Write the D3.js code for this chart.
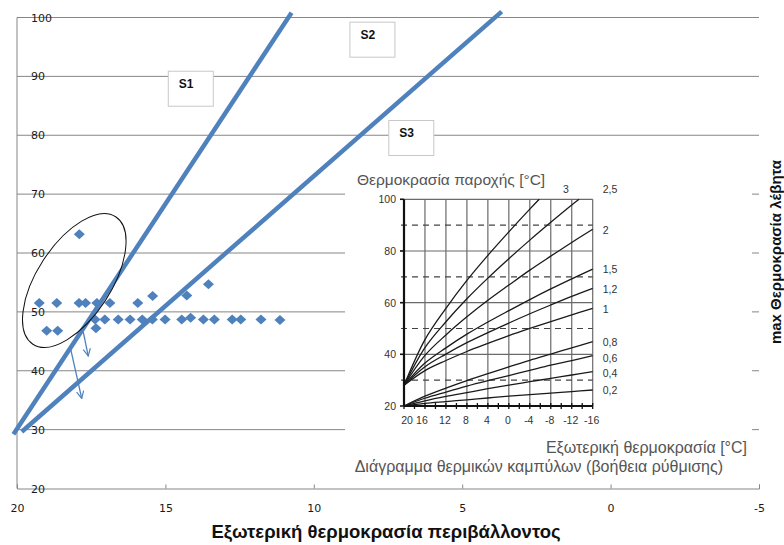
<!DOCTYPE html>
<html><head><meta charset="utf-8">
<script src="https://cdn.jsdelivr.net/npm/d3@7"></script>
<style>body{margin:0;background:#fff}svg{display:block}</style>
</head><body>
<svg id="c" width="784" height="545"></svg>
<script>
// ---------- main chart data ----------
const xTickValues = [20, 15, 10, 5, 0, -5];
const yTickValues = [20, 30, 40, 50, 60, 70, 80, 90, 100];
const pointX = [19.25, 18.66, 17.91, 17.69, 17.31, 16.87, 15.93,
                15.43, 14.28, 13.55,
                17.37, 17.04, 16.59, 16.19, 15.78, 15.44, 15.01, 14.45, 14.15, 13.72, 13.35, 12.75, 12.46, 11.78, 11.14,
                19.0, 18.63, 17.34, 17.9];
const pointY = [51.5, 51.5, 51.5, 51.5, 51.5, 51.5, 51.5,
                52.7, 52.8, 54.7,
                48.7, 48.7, 48.7, 48.7, 48.7, 48.7, 48.7, 48.7, 49.0, 48.7, 48.7, 48.7, 48.7, 48.7, 48.6,
                46.8, 46.8, 47.2, 63.2];
const lineStartX = [20.12, 19.84];
const lineStartY = [29.2, 29.65];
const lineEndX = [10.75, 3.67];
const lineEndY = [100.8, 101.0];
const boxLabels = ["S1", "S2", "S3"];
const boxX = [14.92, 8.80, 7.49];
const boxY = [90.96, 99.29, 82.59];
const arrowStartX = [17.77, 18.21];
const arrowStartY = [46.63, 44.1];
const arrowEndX = [17.60, 17.82];
const arrowEndY = [42.5, 35.3];
const ellipseCenter = [18.07, 55.33];

// ---------- inset (heating curves) data ----------
const insetXTicks = [20, 16, 12, 8, 4, 0, -4, -8, -12, -16];
const insetYTicks = [20, 40, 60, 80, 100];
const insetDashed = [30, 50, 70, 90];
const insetMinor = [18, 14, 10, 6, 2, -2, -6, -10, -14];
const curveNames = ["0,2", "0,4", "0,6", "0,8", "1", "1,2", "1,5", "2", "2,5", "3"];
const curveT = [20, 16, 12, 8, 4, 0, -4, -8, -12, -16];
const curve02 = [20, 21.0, 21.7, 22.4, 23.1, 23.8, 24.4, 25.0, 25.6, 26.2];
const curve04 = [20, 22.0, 23.7, 25.2, 26.7, 28.1, 29.4, 30.7, 32.0, 33.3];
const curve06 = [20, 23.0, 25.4, 27.7, 29.8, 31.8, 33.8, 35.8, 37.6, 39.5];
const curve08 = [20, 23.8, 26.9, 29.8, 32.5, 35.1, 37.7, 40.1, 42.5, 44.9];
const curve10 = [28, 33.7, 37.6, 41.1, 44.2, 47.2, 50.0, 52.7, 55.3, 57.8];
const curve12 = [28, 35.2, 40.1, 44.5, 48.4, 52.1, 55.7, 59.1, 62.4, 65.5];
const curve15 = [28, 36.6, 42.5, 47.8, 52.5, 56.9, 61.2, 65.3, 69.2, 73.0];
const curve20 = [28, 39.6, 47.5, 54.5, 60.9, 66.8, 72.6, 78.0, 83.3, 88.4];
const curve25T = [20, 16, 12, 8, 4, 0, -4, -8, -12, -13.4];
const curve25 = [28, 42.6, 52.6, 61.5, 69.5, 77.0, 84.2, 91.1, 97.8, 100];
const curve30T = [20, 16, 12, 8, 4, 0, -4, -5.8];
const curve30 = [28, 45.7, 57.8, 68.6, 78.3, 87.4, 96.2, 100];
const curveLabelT = [-16, -16, -16, -16, -16, -16, -16, -16, -16, -10.9];
const curveLabelV = [26.0, 32.6, 38.6, 44.9, 57.6, 65.4, 73.1, 88.2, 104, 104];

const svg = d3.select("#c");
const blue = "#4F81BD";
const grid = "#868686";

// main scales
const x = d3.scaleLinear().domain([20, -5]).range([17, 759]);
const y = d3.scaleLinear().domain([20, 100]).range([488.5, 17.5]);

// gridlines
svg.append("g").selectAll("line").data(yTickValues.filter(v => v > 20)).join("line")
  .attr("x1", x(20)).attr("x2", x(-5)).attr("y1", d => y(d)).attr("y2", d => y(d))
  .attr("stroke", grid).attr("stroke-width", 1);

// x axis
const xAxis = svg.append("g").attr("transform", `translate(0,${y(20)})`)
  .call(d3.axisBottom(x).tickValues(xTickValues).tickSize(-4).tickPadding(16).tickFormat(d => String(d)));
xAxis.select(".domain").attr("stroke", grid);
xAxis.selectAll(".tick line").attr("stroke", grid);
xAxis.selectAll("text").attr("font-family", "DejaVu Sans").attr("font-size", 11).attr("fill", "#1a1a1a");

// y axis line
svg.append("line").attr("x1", x(20)).attr("x2", x(20)).attr("y1", y(20)).attr("y2", y(100))
  .attr("stroke", grid);
// y labels (drawn to the right of the axis)
svg.append("g").selectAll("text").data(yTickValues).join("text")
  .attr("x", x(20) + 14).attr("y", d => y(d) + 4)
  .attr("font-family", "DejaVu Sans").attr("font-size", 11).attr("fill", "#1a1a1a")
  .text(d => d);

// S lines
svg.append("g").selectAll("line").data(lineStartX).join("line")
  .attr("x1", (d, i) => x(lineStartX[i])).attr("y1", (d, i) => y(lineStartY[i]))
  .attr("x2", (d, i) => x(lineEndX[i])).attr("y2", (d, i) => y(lineEndY[i]))
  .attr("stroke", blue).attr("stroke-width", 4.5);

// scatter diamonds
svg.append("g").selectAll("path").data(pointX).join("path")
  .attr("d", "M0,-5 L5.5,0 L0,5 L-5.5,0 Z")
  .attr("transform", (d, i) => `translate(${x(pointX[i])},${y(pointY[i])})`)
  .attr("fill", blue);

// ellipse
svg.append("ellipse")
  .attr("transform", `translate(${x(ellipseCenter[0])},${y(ellipseCenter[1])}) rotate(-57)`)
  .attr("rx", 76).attr("ry", 37).attr("fill", "none").attr("stroke", "#111").attr("stroke-width", 1);

// arrows
const defs = svg.append("defs");
defs.append("marker").attr("id", "ah").attr("viewBox", "0 0 10 10").attr("refX", 9).attr("refY", 5)
  .attr("markerWidth", 9).attr("markerHeight", 9).attr("orient", "auto").attr("markerUnits", "userSpaceOnUse")
  .append("path").attr("d", "M1,1 L9,5 L1,9").attr("fill", "none").attr("stroke", blue).attr("stroke-width", 1.3);
svg.append("g").selectAll("line").data(arrowStartX).join("line")
  .attr("x1", (d, i) => x(arrowStartX[i])).attr("y1", (d, i) => y(arrowStartY[i]))
  .attr("x2", (d, i) => x(arrowEndX[i])).attr("y2", (d, i) => y(arrowEndY[i]))
  .attr("stroke", blue).attr("stroke-width", 1.3).attr("marker-end", "url(#ah)");

// ---------- inset ----------
svg.append("rect").attr("x", 345).attr("y", 162).attr("width", 407).attr("height", 316).attr("fill", "#fff");

// label boxes (drawn above the inset background)
const bx = svg.append("g").selectAll("g").data(boxLabels).join("g")
  .attr("transform", (d, i) => `translate(${x(boxX[i])},${y(boxY[i])})`);
bx.append("rect").attr("x", 0.5).attr("y", 0.5).attr("width", 45).attr("height", 35)
  .attr("fill", "#fff").attr("stroke", "#c8c8c8").attr("stroke-width", 1);
bx.append("text").attr("x", 11).attr("y", 17).attr("font-family", "Liberation Sans").attr("font-weight", "bold")
  .attr("font-size", 12).attr("fill", "#111").text(d => d);

const xi = d3.scaleLinear().domain([20, -16]).range([404, 592.7]);
const yi = d3.scaleLinear().domain([20, 100]).range([406, 199.3]);
const ig = svg.append("g");

// vertical grid
ig.selectAll("line.v").data(insetXTicks.slice(1)).join("line").attr("class", "v")
  .attr("x1", d => xi(d)).attr("x2", d => xi(d)).attr("y1", yi(20)).attr("y2", yi(100))
  .attr("stroke", "#6a6a6a").attr("stroke-width", 1.2);
// horizontal solid grid
ig.selectAll("line.h").data(insetYTicks.slice(1)).join("line").attr("class", "h")
  .attr("x1", xi(20) - 4).attr("x2", xi(-16)).attr("y1", d => yi(d)).attr("y2", d => yi(d))
  .attr("stroke", "#6a6a6a").attr("stroke-width", 1.2);
// dashed
ig.selectAll("line.d").data(insetDashed).join("line").attr("class", "d")
  .attr("x1", xi(20) - 3).attr("x2", xi(-16)).attr("y1", d => yi(d)).attr("y2", d => yi(d))
  .attr("stroke", "#444").attr("stroke-width", 1.2).attr("stroke-dasharray", "6,5");

// curves
const curveSets = [
  [curveT, curve02], [curveT, curve04], [curveT, curve06], [curveT, curve08],
  [curveT, curve10], [curveT, curve12], [curveT, curve15], [curveT, curve20],
  [curve25T, curve25], [curve30T, curve30]
];
const lineGen = d3.line().x(d => xi(d[0])).y(d => yi(d[1])).curve(d3.curveCatmullRom);
ig.selectAll("path.c").data(curveSets).join("path").attr("class", "c")
  .attr("d", s => lineGen(s[0].map((t, i) => [t, s[1][i]])))
  .attr("fill", "none").attr("stroke", "#1a1a1a").attr("stroke-width", 1.3);

// axes
ig.append("line").attr("x1", xi(20)).attr("x2", xi(20)).attr("y1", yi(20)).attr("y2", yi(100))
  .attr("stroke", "#111").attr("stroke-width", 2.2);
ig.append("line").attr("x1", xi(20)).attr("x2", xi(-16)).attr("y1", yi(20)).attr("y2", yi(20))
  .attr("stroke", "#111").attr("stroke-width", 2.2);
ig.selectAll("line.mt").data(insetXTicks.concat(insetMinor)).join("line").attr("class", "mt")
  .attr("x1", d => xi(d)).attr("x2", d => xi(d)).attr("y1", yi(20) - 3).attr("y2", yi(20) + 3)
  .attr("stroke", "#111").attr("stroke-width", 1.3);
ig.selectAll("line.yt").data(insetYTicks).join("line").attr("class", "yt")
  .attr("x1", xi(20) - 4).attr("x2", xi(20)).attr("y1", d => yi(d)).attr("y2", d => yi(d))
  .attr("stroke", "#111").attr("stroke-width", 1.5);

// inset tick labels
ig.selectAll("text.yl").data(insetYTicks).join("text").attr("class", "yl")
  .attr("x", xi(20) - 8).attr("y", d => yi(d) + 4).attr("text-anchor", "end")
  .attr("font-family", "Liberation Sans").attr("font-size", 10.5).attr("fill", "#333").text(d => d);
ig.selectAll("text.xl").data(insetXTicks).join("text").attr("class", "xl")
  .attr("x", (d, i) => xi(d) + (i === 0 ? 3 : i === 1 ? -3 : -1)).attr("y", yi(20) + 18).attr("text-anchor", "middle")
  .attr("font-family", "Liberation Sans").attr("font-size", 10.5).attr("fill", "#333").text(d => d);

// curve labels
ig.selectAll("text.cl").data(curveNames).join("text").attr("class", "cl")
  .attr("x", (d, i) => i === 9 ? xi(curveLabelT[i]) - 3 : xi(curveLabelT[i]) + 10)
  .attr("y", (d, i) => yi(curveLabelV[i]) + 4)
  .attr("font-family", "Liberation Sans").attr("font-size", 10.5).attr("fill", "#333").text(d => d);

// inset texts
ig.append("text").attr("x", 357).attr("y", 185).attr("font-family", "Liberation Sans").attr("font-size", 15.5)
  .attr("fill", "#555").text("Θερμοκρασία παροχής [°C]");
ig.append("text").attr("x", 747).attr("y", 453).attr("text-anchor", "end").attr("font-family", "Liberation Sans")
  .attr("font-size", 16).attr("fill", "#555").text("Εξωτερική θερμοκρασία [°C]");
ig.append("text").attr("x", 723).attr("y", 472).attr("text-anchor", "end").attr("font-family", "Liberation Sans")
  .attr("font-size", 16).attr("fill", "#555").text("Διάγραμμα θερμικών καμπύλων (βοήθεια ρύθμισης)");

// axis titles
svg.append("text").attr("x", 386).attr("y", 538).attr("text-anchor", "middle")
  .attr("font-family", "Liberation Sans").attr("font-weight", "bold").attr("font-size", 18.5).attr("fill", "#111")
  .text("Εξωτερική θερμοκρασία περιβάλλοντος");
svg.append("text").attr("transform", "translate(781,252) rotate(-90)").attr("text-anchor", "middle")
  .attr("font-family", "Liberation Sans").attr("font-weight", "bold").attr("font-size", 15).attr("fill", "#111")
  .text("max Θερμοκρασία λέβητα");
</script>
</body></html>
